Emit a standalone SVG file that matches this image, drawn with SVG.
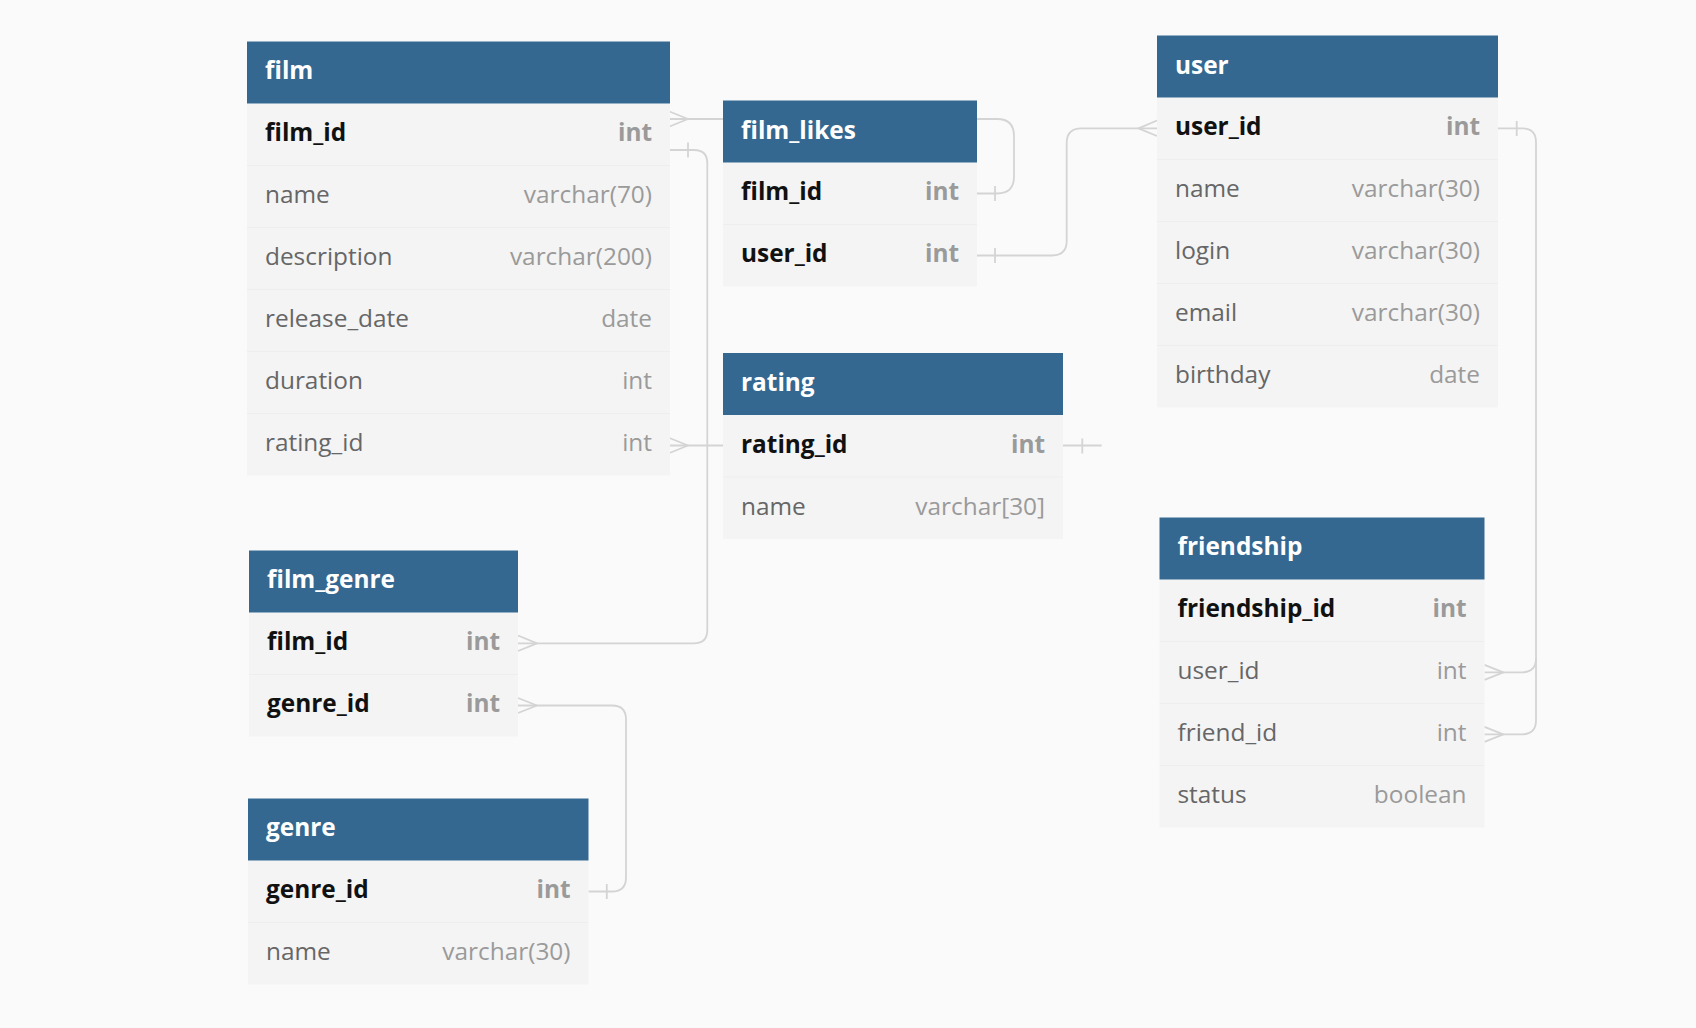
<svg xmlns="http://www.w3.org/2000/svg" width="1696" height="1028" viewBox="0 0 1696 1028">
<style>
.bg{fill:#fafafa}
.hd{fill:#346891}
.row{fill:#f4f4f4}
.sep{stroke:#eeeeee;stroke-width:1}
.ht{font-family:"Open Sans","Noto Sans",sans-serif;font-size:24.4px;font-weight:700;fill:#ffffff}
.kn{font-family:"Open Sans","Noto Sans",sans-serif;font-size:24.4px;font-weight:700;fill:#111111}
.kt{font-family:"Open Sans","Noto Sans",sans-serif;font-size:24.4px;font-weight:700;fill:#9a9a9a;text-anchor:end}
.fn{font-family:"Open Sans","Noto Sans",sans-serif;font-size:24.4px;fill:#666666}
.ft{font-family:"Open Sans","Noto Sans",sans-serif;font-size:24.4px;fill:#9a9a9a;text-anchor:end}
.ln{fill:none;stroke:#d4d4d4;stroke-width:1.8;stroke-linejoin:round}
</style>
<rect class="bg" x="0" y="0" width="1696" height="1028"/>
<g id="connectors">
  <!-- film.film_id >- film_likes.film_id -->
  <path class="ln" d="M669.5,119 H997 Q1014,119 1014,136 V176.5 Q1014,193.5 997,193.5 H977"/>
  <path class="ln" d="M669.5,111.5 L688,119 L669.5,126.5"/>
  <path class="ln" d="M995,186 V201"/>
  <!-- film.film_id -< film_genre.film_id -->
  <path class="ln" d="M669.5,150 H694 Q707.3,150 707.3,163.3 V630 Q707.3,643.3 694,643.3 H518"/>
  <path class="ln" d="M688,142.5 V157.5"/>
  <path class="ln" d="M518,635.5 L537,643.3 L518,651"/>
  <!-- film.rating_id >- rating.rating_id -->
  <path class="ln" d="M669.5,445.5 H1101.7"/>
  <path class="ln" d="M669.5,438 L688,445.5 L669.5,453"/>
  <path class="ln" d="M1082.3,438.5 V453.5"/>
  <!-- film_likes.user_id -< user.user_id -->
  <path class="ln" d="M977,255.5 H1052 Q1066.7,255.5 1066.7,240.8 V143 Q1066.7,128.3 1081.4,128.3 H1157"/>
  <path class="ln" d="M995,248 V263"/>
  <path class="ln" d="M1157,120.5 L1138.5,128.3 L1157,136"/>
  <!-- film_genre.genre_id >- genre.genre_id -->
  <path class="ln" d="M518,705.5 H612 Q626,705.5 626,719.5 V877.5 Q626,891.5 612,891.5 H588.5"/>
  <path class="ln" d="M518,698 L537,705.5 L518,713"/>
  <path class="ln" d="M606.8,884 V899"/>
  <!-- user.user_id -< friendship.user_id / friend_id -->
  <path class="ln" d="M1498,128.3 H1522 Q1536,128.3 1536,142.3 V658.3 Q1536,672.3 1522,672.3 H1484.5"/>
  <path class="ln" d="M1536,658 V720.3 Q1536,734.3 1522,734.3 H1484.5"/>
  <path class="ln" d="M1516.7,121 V136"/>
  <path class="ln" d="M1484.5,664.8 L1503.3,672.3 L1484.5,679.8"/>
  <path class="ln" d="M1484.5,726.8 L1503.3,734.3 L1484.5,741.8"/>
</g>
<g id="film">
  <rect class="row" x="247" y="103.5" width="423" height="372"/>
  <line class="sep" x1="247" y1="165.5" x2="670" y2="165.5"/>
  <line class="sep" x1="247" y1="227.5" x2="670" y2="227.5"/>
  <line class="sep" x1="247" y1="289.5" x2="670" y2="289.5"/>
  <line class="sep" x1="247" y1="351.5" x2="670" y2="351.5"/>
  <line class="sep" x1="247" y1="413.5" x2="670" y2="413.5"/>
  <rect class="hd" x="247" y="41.5" width="423" height="62"/>
  <text class="ht" x="265" y="79">film</text>
  <text class="kn" x="265" y="141">film_id</text><text class="kt" x="652" y="141">int</text>
  <text class="fn" x="265" y="203">name</text><text class="ft" x="652" y="203">varchar(70)</text>
  <text class="fn" x="265" y="265">description</text><text class="ft" x="652" y="265">varchar(200)</text>
  <text class="fn" x="265" y="327">release_date</text><text class="ft" x="652" y="327">date</text>
  <text class="fn" x="265" y="389">duration</text><text class="ft" x="652" y="389">int</text>
  <text class="fn" x="265" y="451">rating_id</text><text class="ft" x="652" y="451">int</text>
</g>
<g id="film_likes">
  <rect class="row" x="723" y="162.5" width="254" height="124"/>
  <line class="sep" x1="723" y1="224.5" x2="977" y2="224.5"/>
  <rect class="hd" x="723" y="100.5" width="254" height="62"/>
  <text class="ht" x="741" y="138.5">film_likes</text>
  <text class="kn" x="741" y="200">film_id</text><text class="kt" x="959" y="200">int</text>
  <text class="kn" x="741" y="262">user_id</text><text class="kt" x="959" y="262">int</text>
</g>
<g id="user">
  <rect class="row" x="1157" y="97.5" width="341" height="310"/>
  <line class="sep" x1="1157" y1="159.5" x2="1498" y2="159.5"/>
  <line class="sep" x1="1157" y1="221.5" x2="1498" y2="221.5"/>
  <line class="sep" x1="1157" y1="283.5" x2="1498" y2="283.5"/>
  <line class="sep" x1="1157" y1="345.5" x2="1498" y2="345.5"/>
  <rect class="hd" x="1157" y="35.5" width="341" height="62"/>
  <text class="ht" x="1175" y="73.5">user</text>
  <text class="kn" x="1175" y="135">user_id</text><text class="kt" x="1480" y="135">int</text>
  <text class="fn" x="1175" y="197">name</text><text class="ft" x="1480" y="197">varchar(30)</text>
  <text class="fn" x="1175" y="259">login</text><text class="ft" x="1480" y="259">varchar(30)</text>
  <text class="fn" x="1175" y="321">email</text><text class="ft" x="1480" y="321">varchar(30)</text>
  <text class="fn" x="1175" y="383">birthday</text><text class="ft" x="1480" y="383">date</text>
</g>
<g id="rating">
  <rect class="row" x="723" y="415" width="340" height="124"/>
  <line class="sep" x1="723" y1="477" x2="1063" y2="477"/>
  <rect class="hd" x="723" y="353" width="340" height="62"/>
  <text class="ht" x="741" y="390.5">rating</text>
  <text class="kn" x="741" y="452.5">rating_id</text><text class="kt" x="1045" y="452.5">int</text>
  <text class="fn" x="741" y="514.5">name</text><text class="ft" x="1045" y="514.5">varchar[30]</text>
</g>
<g id="film_genre">
  <rect class="row" x="249" y="612.5" width="269" height="124"/>
  <line class="sep" x1="249" y1="674.5" x2="518" y2="674.5"/>
  <rect class="hd" x="249" y="550.5" width="269" height="62"/>
  <text class="ht" x="267" y="588">film_genre</text>
  <text class="kn" x="267" y="650">film_id</text><text class="kt" x="500" y="650">int</text>
  <text class="kn" x="267" y="712">genre_id</text><text class="kt" x="500" y="712">int</text>
</g>
<g id="genre">
  <rect class="row" x="248" y="860.5" width="340.5" height="124"/>
  <line class="sep" x1="248" y1="922.5" x2="588.5" y2="922.5"/>
  <rect class="hd" x="248" y="798.5" width="340.5" height="62"/>
  <text class="ht" x="266" y="836">genre</text>
  <text class="kn" x="266" y="898">genre_id</text><text class="kt" x="570.5" y="898">int</text>
  <text class="fn" x="266" y="960">name</text><text class="ft" x="570.5" y="960">varchar(30)</text>
</g>
<g id="friendship">
  <rect class="row" x="1159.5" y="579.5" width="325" height="248"/>
  <line class="sep" x1="1159.5" y1="641.5" x2="1484.5" y2="641.5"/>
  <line class="sep" x1="1159.5" y1="703.5" x2="1484.5" y2="703.5"/>
  <line class="sep" x1="1159.5" y1="765.5" x2="1484.5" y2="765.5"/>
  <rect class="hd" x="1159.5" y="517.5" width="325" height="62"/>
  <text class="ht" x="1177.5" y="555">friendship</text>
  <text class="kn" x="1177.5" y="617">friendship_id</text><text class="kt" x="1466.5" y="617">int</text>
  <text class="fn" x="1177.5" y="679">user_id</text><text class="ft" x="1466.5" y="679">int</text>
  <text class="fn" x="1177.5" y="741">friend_id</text><text class="ft" x="1466.5" y="741">int</text>
  <text class="fn" x="1177.5" y="803">status</text><text class="ft" x="1466.5" y="803">boolean</text>
</g>
</svg>
